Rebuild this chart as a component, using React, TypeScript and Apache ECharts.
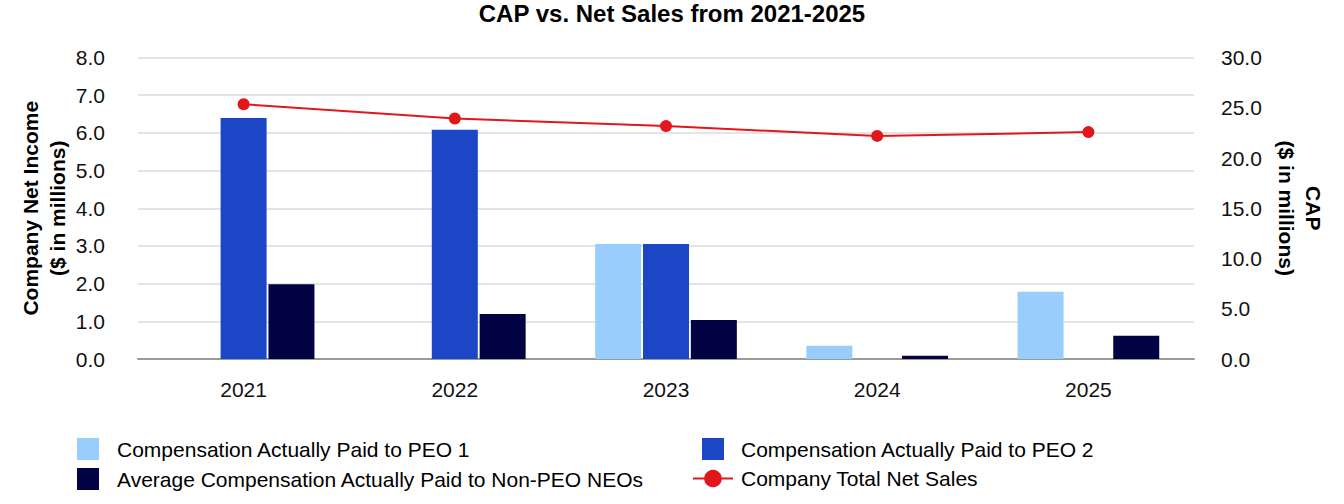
import React, { useEffect, useRef } from "react";
import * as echarts from "echarts";

const years = ["2021", "2022", "2023", "2024", "2025"];
const capPeo1 = [null, null, 11.45, 1.32, 6.69];
const capPeo2 = [23.97, 22.8, 11.45, null, null];
const capNonPeo = [7.45, 4.47, 3.87, 0.33, 2.31];
const netSales = [6.76, 6.38, 6.18, 5.92, 6.02];

const FONT = "'Liberation Sans', Arial, Helvetica, sans-serif";

export default function App() {
  const ref = useRef<HTMLDivElement>(null);
  useEffect(() => {
    if (!ref.current) return;
    const chart = echarts.init(ref.current, null, { renderer: "svg" });
    const sq = "path://M0,0h22v22h-22z";
    chart.setOption({
      animation: false,
      backgroundColor: "#ffffff",
      textStyle: { fontFamily: FONT },
      title: {
        text: "CAP vs. Net Sales from 2021-2025",
        left: "center",
        top: -4,
        textStyle: { fontFamily: FONT, fontSize: 24, fontWeight: "bold", color: "#000" },
      },
      grid: { left: 138, right: 150, top: 57.5, bottom: 145, containLabel: false },
      legend: [
        {
          orient: "vertical",
          left: 72,
          top: 433,
          itemWidth: 40,
          itemHeight: 22,
          itemGap: 8,
          symbolKeepAspect: true,
          textStyle: { fontFamily: FONT, fontSize: 21, color: "#000", padding: [0, 0, 0, 4] },
          data: [
            { name: "Compensation Actually Paid to PEO 1", icon: sq },
            { name: "Average Compensation Actually Paid to Non-PEO NEOs", icon: sq },
          ],
        },
        {
          orient: "vertical",
          left: 687,
          top: 433,
          itemWidth: 40,
          itemHeight: 22,
          itemGap: 8,
          symbolKeepAspect: true,
          textStyle: { fontFamily: FONT, fontSize: 21, color: "#000", padding: [0, 0, 0, 3] },
          data: [
            { name: "Compensation Actually Paid to PEO 2", icon: sq },
            { name: "Company Total Net Sales" },
          ],
        },
      ],
      xAxis: {
        type: "category",
        data: years,
        axisTick: { show: false },
        axisLine: { lineStyle: { color: "#9a9a9a", width: 2 } },
        axisLabel: { fontFamily: FONT, fontSize: 21, color: "#111", margin: 20 },
      },
      yAxis: [
        {
          type: "value",
          min: 0,
          max: 8,
          interval: 1,
          position: "left",
          name: "Company Net Income\n($ in millions)",
          nameLocation: "middle",
          nameGap: 67,
          nameMoveOverlap: false,
          nameTextStyle: { fontFamily: FONT, fontSize: 21, fontWeight: "bold", color: "#000", lineHeight: 27 },
          axisLine: { show: false },
          axisTick: { show: false },
          axisLabel: { fontFamily: FONT, fontSize: 21, color: "#111", margin: 33, formatter: (v: number) => v.toFixed(1) },
          splitLine: { lineStyle: { color: "#e4e4e4", width: 2 } },
        },
        {
          type: "value",
          min: 0,
          max: 30,
          interval: 5,
          position: "right",
          name: "CAP\n($ in millions)",
          nameLocation: "middle",
          nameGap: 79,
          nameMoveOverlap: false,
          nameRotate: -90,
          nameTextStyle: { fontFamily: FONT, fontSize: 21, fontWeight: "bold", color: "#000", lineHeight: 27 },
          axisLine: { show: false },
          axisTick: { show: false },
          axisLabel: { fontFamily: FONT, fontSize: 21, color: "#111", margin: 27, formatter: (v: number) => v.toFixed(1) },
          splitLine: { show: false },
        },
      ],
      series: [
        {
          name: "Compensation Actually Paid to PEO 1",
          type: "bar",
          yAxisIndex: 1,
          data: capPeo1,
          barWidth: 46,
          barGap: "4%",
          itemStyle: { color: "#99CEFC" },
        },
        {
          name: "Compensation Actually Paid to PEO 2",
          type: "bar",
          yAxisIndex: 1,
          data: capPeo2,
          barWidth: 46,
          barGap: "4%",
          itemStyle: { color: "#1B46C6" },
        },
        {
          name: "Average Compensation Actually Paid to Non-PEO NEOs",
          type: "bar",
          yAxisIndex: 1,
          data: capNonPeo,
          barWidth: 46,
          barGap: "4%",
          itemStyle: { color: "#010345" },
        },
        {
          name: "Company Total Net Sales",
          type: "line",
          yAxisIndex: 0,
          data: netSales,
          symbol: "circle",
          symbolSize: 12,
          lineStyle: { color: "#E3161B", width: 2 },
          itemStyle: { color: "#E3161B" },
          z: 5,
        },
      ],
    });
    return () => chart.dispose();
  }, []);
  return (
    <div
      ref={ref}
      style={{ position: "fixed", left: 0, top: 0, width: 1344, height: 504, background: "#fff" }}
    />
  );
}
